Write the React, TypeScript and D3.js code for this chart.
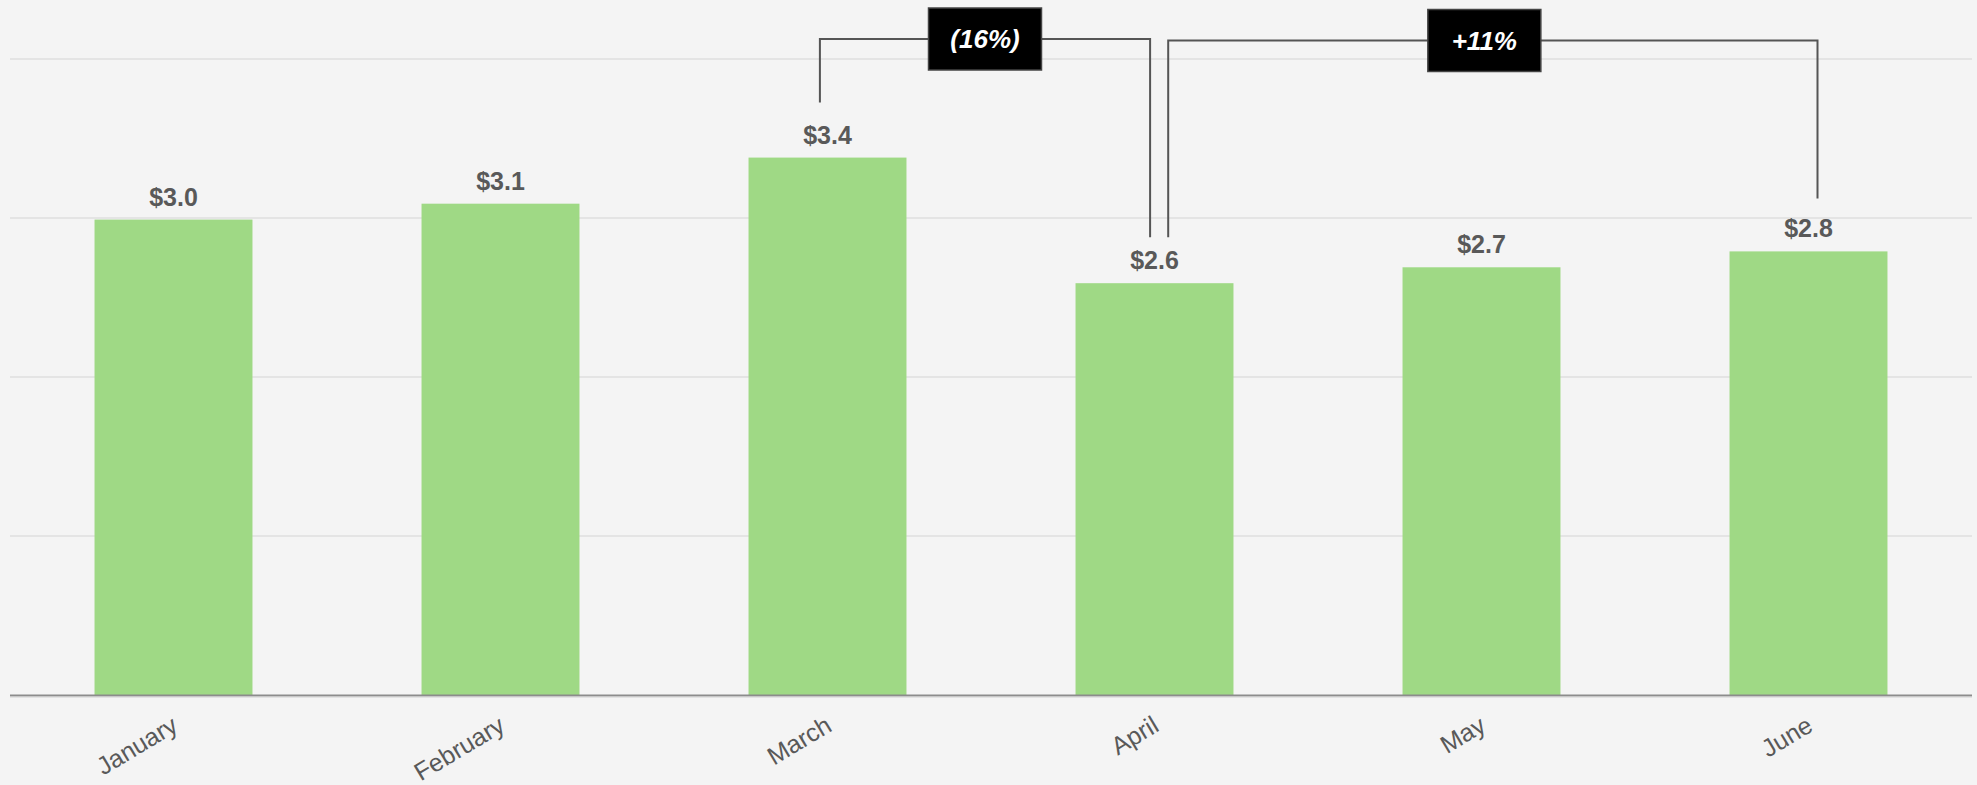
import React from "react";
import * as d3 from "d3";

const months: string[] = ["January", "February", "March", "April", "May", "June"];
const revenue: number[] = [2.99, 3.09, 3.38, 2.59, 2.69, 2.79];
const yTicks: number[] = [0, 1, 2, 3, 4];

const annotationLabels: string[] = ["(16%)", "+11%"];
const annotationFrom: string[] = ["March", "April"];
const annotationTo: string[] = ["April", "June"];

const W = 1977;
const H = 785;
const FONT = "'Liberation Sans', Arial, Helvetica, sans-serif";
const TEXT = "#595959";
const BAR = "#9fd985";
const BG = "#f4f4f4";
const LINE = "#555555";

// per-annotation styling (offsets from band centres, gaps above bars, line heights)
const annStyle = [
  { fromDx: -7.6, toDx: -4.4, fromGap: 55, toGap: 46, lineY: 39, boxDx: 0 },
  { fromDx: 13.7, toDx: 9, fromGap: 46, toGap: 53, lineY: 40.5, boxDx: -8.5 },
];

export default function App() {
  const x = d3
    .scaleBand<string>()
    .domain(months)
    .range([10, 1972])
    .paddingInner(0.517)
    .paddingOuter(0.2585);
  const y = d3.scaleLinear().domain([0, 4]).range([695, 59]);
  const cx = (m: string) => (x(m) as number) + x.bandwidth() / 2;
  const valOf = (m: string) => revenue[months.indexOf(m)];

  return (
    <svg
      width={W}
      height={H}
      style={{ position: "absolute", left: 0, top: 0, background: BG }}
      fontFamily={FONT}
    >
      <rect x={0} y={0} width={W} height={H} fill={BG} />
      {yTicks.slice(1).map((t) => (
        <line
          key={t}
          x1={10}
          x2={1972}
          y1={y(t)}
          y2={y(t)}
          stroke="#e4e4e4"
          strokeWidth={2}
        />
      ))}
      {months.map((m, i) => (
        <rect
          key={m}
          x={x(m)}
          y={y(revenue[i])}
          width={x.bandwidth()}
          height={y(0) - y(revenue[i])}
          fill={BAR}
        />
      ))}
      <line x1={10} x2={1972} y1={y(0) + 0.5} y2={y(0) + 0.5} stroke="#8c8c8c" strokeWidth={2} />
      <line x1={10} x2={1972} y1={y(0) + 2} y2={y(0) + 2} stroke="#cfcfcf" strokeWidth={1} />
      {months.map((m, i) => (
        <text
          key={"v" + m}
          x={cx(m)}
          y={y(revenue[i]) - 14}
          textAnchor="middle"
          fontSize={25}
          fontWeight="bold"
          fill={TEXT}
        >
          {"$" + d3.format(".1f")(revenue[i])}
        </text>
      ))}
      {months.map((m) => (
        <text
          key={"l" + m}
          transform={`translate(${cx(m) + 6},${730}) rotate(-31)`}
          textAnchor="end"
          fontSize={25}
          fill={TEXT}
        >
          {m}
        </text>
      ))}
      {annotationLabels.map((lab, i) => {
        const s = annStyle[i];
        const x1 = cx(annotationFrom[i]) + s.fromDx;
        const x2 = cx(annotationTo[i]) + s.toDx;
        const yb1 = y(valOf(annotationFrom[i])) - s.fromGap;
        const yb2 = y(valOf(annotationTo[i])) - s.toGap;
        const ly = s.lineY;
        const mid = (x1 + x2) / 2 + s.boxDx;
        const bw = 113;
        const bh = 62;
        return (
          <g key={lab}>
            <path
              d={`M${x1},${yb1}V${ly}H${x2}V${yb2}`}
              fill="none"
              stroke={LINE}
              strokeWidth={2}
            />
            <rect
              x={mid - bw / 2}
              y={ly - bh / 2}
              width={bw}
              height={bh}
              fill="#000"
              stroke="#444"
              strokeWidth={1.5}
            />
            <text
              x={mid}
              y={ly + 9}
              textAnchor="middle"
              fontSize={26}
              fontWeight="bold"
              fontStyle="italic"
              fill="#fff"
            >
              {lab}
            </text>
          </g>
        );
      })}
    </svg>
  );
}
